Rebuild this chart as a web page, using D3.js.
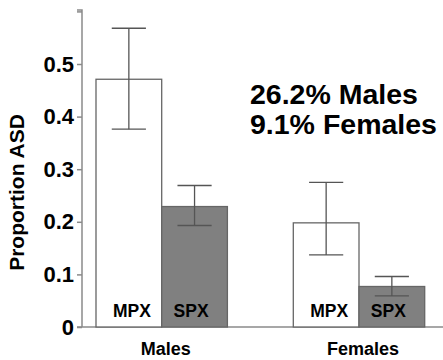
<!DOCTYPE html>
<html><head><meta charset="utf-8">
<script src="https://cdn.jsdelivr.net/npm/d3@7"></script>
<style>body{margin:0;background:#fff}svg{display:block}text{font-family:"Liberation Sans",Arial,sans-serif;font-weight:bold}</style>
</head><body><svg id="c" width="443" height="360"></svg>
<script>
const groups = ["Males", "Females"];
const series = ["MPX", "SPX"];
const values = { MPX: [0.471, 0.198], SPX: [0.229, 0.077] };
const lower  = { MPX: [0.376, 0.137], SPX: [0.193, 0.059] };
const upper  = { MPX: [0.568, 0.275], SPX: [0.269, 0.096] };
const yTicks = [0, 0.1, 0.2, 0.3, 0.4, 0.5, 0.6];
const yTickLabels = ["0", "0.1", "0.2", "0.3", "0.4", "0.5", ""];
const annotation = ["26.2% Males", "9.1% Females"];

const svg = d3.select("#c");
const y = d3.scaleLinear().domain([0, 0.6]).range([327, 11.4]);
const x0 = d3.scaleBand().domain(groups).range([96, 424.7]).paddingInner(0.334).paddingOuter(0);
const x1 = d3.scaleBand().domain(series).range([0, x0.bandwidth()]);
const fills = { MPX: "#ffffff", SPX: "#808080" };
const labelShift = { MPX: 3, SPX: -3.5 };

// baseline
svg.append("line").attr("x1", 77).attr("x2", 443).attr("y1", y(0)).attr("y2", y(0))
  .attr("stroke", "#8a8a8a").attr("stroke-width", 1.5);

// y axis
const ax = svg.append("g").attr("transform", "translate(82,0)")
  .call(d3.axisLeft(y).tickValues(yTicks).tickFormat((d, i) => yTickLabels[i]).tickSize(5).tickPadding(3));
ax.select(".domain").attr("stroke", "#8a8a8a").attr("stroke-width", 1.5).attr("d", `M-5,${y(0.6)-1.4}H0V${y(0)}`);
ax.selectAll(".tick line").attr("stroke", "#8a8a8a").attr("stroke-width", 1.5);
ax.selectAll(".tick text").attr("fill", "#000").style("font-size", "22px").style("font-weight", "bold")
  .style("font-family", '"Liberation Sans",Arial,sans-serif');

// bars
const data = [];
groups.forEach((g, gi) => series.forEach(s => data.push({ g, s, v: values[s][gi], lo: lower[s][gi], hi: upper[s][gi] })));

svg.selectAll("rect.bar").data(data).join("rect").attr("class", "bar")
  .attr("x", d => x0(d.g) + x1(d.s)).attr("width", x1.bandwidth())
  .attr("y", d => y(d.v)).attr("height", d => y(0) - y(d.v))
  .attr("fill", d => fills[d.s]).attr("stroke", "#666").attr("stroke-width", 1.3);

// error bars
const eb = svg.selectAll("g.eb").data(data).join("g").attr("class", "eb")
  .attr("transform", d => `translate(${x0(d.g) + x1(d.s) + x1.bandwidth() / 2},0)`);
const cw = x1.bandwidth() * 0.26;
eb.append("line").attr("y1", d => y(d.lo)).attr("y2", d => y(d.hi)).attr("stroke", "#555").attr("stroke-width", 1.3);
eb.append("line").attr("x1", -cw).attr("x2", cw).attr("y1", d => y(d.hi)).attr("y2", d => y(d.hi)).attr("stroke", "#555").attr("stroke-width", 1.3);
eb.append("line").attr("x1", -cw).attr("x2", cw).attr("y1", d => y(d.lo)).attr("y2", d => y(d.lo)).attr("stroke", "#555").attr("stroke-width", 1.3);

// series labels inside bars
svg.selectAll("text.sl").data(data).join("text").attr("class", "sl")
  .attr("x", d => x0(d.g) + x1(d.s) + x1.bandwidth() / 2 + labelShift[d.s]).attr("y", 317)
  .attr("text-anchor", "middle").style("font-size", "17.5px").attr("fill", "#000").text(d => d.s);

// group labels
svg.selectAll("text.gl").data(groups).join("text").attr("class", "gl")
  .attr("x", d => x0(d) + x0.bandwidth() / 2 + 4).attr("y", 355)
  .attr("text-anchor", "middle").style("font-size", "18px").attr("fill", "#000").text(d => d);

// y label
svg.append("text").attr("transform", "translate(24,192.5) rotate(-90)").attr("text-anchor", "middle")
  .style("font-size", "21px").attr("fill", "#000").text("Proportion ASD");

// annotation
svg.selectAll("text.an").data(annotation).join("text").attr("class", "an")
  .attr("x", 250).attr("y", (d, i) => 104.3 + i * 30)
  .style("font-size", "28.5px").attr("fill", "#000").text(d => d);
</script></body></html>
